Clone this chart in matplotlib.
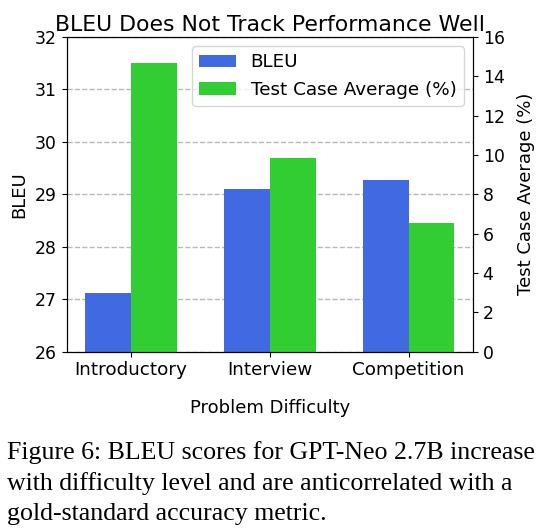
import numpy as np
import matplotlib
matplotlib.use("Agg")
import matplotlib.pyplot as plt

# values
levels = ["Introductory", "Interview", "Competition"]
bleu = [27.11, 29.11, 29.28]
test_case_avg = [14.65, 9.82, 6.52]

caption = ("Figure 6: BLEU scores for GPT-Neo 2.7B increase\n"
           "with difficulty level and are anticorrelated with a\n"
           "gold-standard accuracy metric.")

plt.rcParams['font.size'] = 13

fig = plt.figure(figsize=(5.6, 5.3), dpi=100)
ax1 = fig.add_axes([0.119, 0.3364, 0.7255, 0.594])
ax2 = ax1.twinx()

x = np.arange(len(levels))
w = 0.33

ax1.set_axisbelow(True)
ax1.grid(True, axis='y', linestyle='--', color='#b8b8b8', linewidth=1)
b1 = ax1.bar(x - w / 2, bleu, w, color='royalblue', label='BLEU')
b2 = ax2.bar(x + w / 2, test_case_avg, w, color='limegreen', label='Test Case Average (%)')

ax1.set_ylim(26, 32)
ax2.set_ylim(0, 16)
ax2.set_yticks(range(0, 17, 2))
ax1.set_xticks(x)
ax1.set_xticklabels(levels, fontsize=13.2)
ax1.tick_params(axis='y', labelsize=12.4)
ax2.tick_params(axis='y', labelsize=12.4)

ax1.set_ylabel('BLEU', labelpad=5)
ax2.set_ylabel('Test Case Average (%)', labelpad=9)
ax1.set_xlabel('Problem Difficulty', labelpad=14)
ax1.set_title('BLEU Does Not Track Performance Well', fontsize=15.8, pad=4)

ax2.legend([b1, b2], ['BLEU', 'Test Case Average (%)'], loc='upper right',
           fontsize=13.2)

fig.text(0.013, 0.168, caption, family='Liberation Serif', fontsize=18.6,
         va='top', ha='left', linespacing=1.46)

fig.savefig('out.png', dpi=100)
